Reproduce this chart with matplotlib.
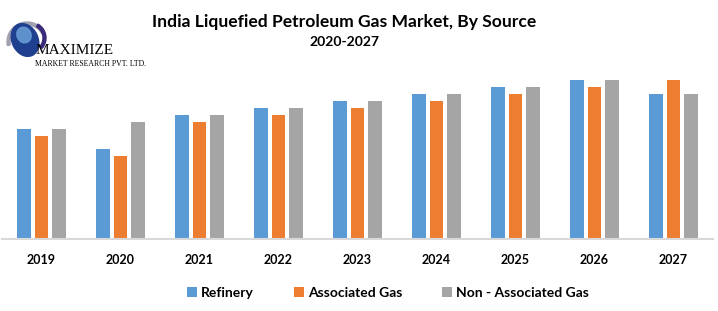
import numpy as np
import matplotlib.pyplot as plt
from matplotlib.patches import Wedge, Ellipse

years = ['2019', '2020', '2021', '2022', '2023', '2024', '2025', '2026', '2027']
refinery = [16, 13, 18, 19, 20, 21, 22, 23, 21]
associated = [15, 12, 17, 18, 19, 20, 21, 22, 23]
non_associated = [16, 17, 18, 19, 20, 21, 22, 23, 21]
series_names = ['Refinery', 'Associated Gas', 'Non - Associated Gas']
colors = ['#5b9bd5', '#ed7d31', '#a5a5a5']

fig = plt.figure(figsize=(7.18, 3.11), dpi=100)
ax = fig.add_axes([2 / 718, 1 - 239 / 311, 711 / 718, 169 / 311])

x = np.arange(len(years))
w = 0.175
off = 0.222
for i, vals in enumerate([refinery, associated, non_associated]):
    ax.bar(x + (i - 1) * off, vals, width=w, color=colors[i], label=series_names[i])

ax.set_xlim(-0.5, len(years) - 0.5)
ax.set_ylim(0, 24.5)
ax.set_yticks([])
ax.set_xticks(x)
ax.set_xticklabels(years, fontsize=9, fontweight='bold', family=['Lato', 'DejaVu Sans'])
ax.tick_params(axis='x', length=0, pad=11)
for s in ['top', 'right', 'left']:
    ax.spines[s].set_visible(False)
ax.spines['bottom'].set_color('#d9d9d9')
ax.spines['bottom'].set_linewidth(1.5)

leg = fig.legend(loc='center', bbox_to_anchor=(388 / 718, 1 - 293 / 311), ncol=3, frameon=False,
                 handlelength=0.7, handleheight=0.7, handletextpad=0.3, columnspacing=2.9,
                 prop={'family': 'Lato', 'weight': 'bold', 'size': 10})

fig.text(344 / 718, 1 - 22 / 311, 'India Liquefied Petroleum Gas Market, By Source',
         ha='center', va='center', fontsize=12.6, fontweight='bold', family='Lato')
fig.text(344 / 718, 1 - 42 / 311, '2020-2027', ha='center', va='center',
         fontsize=10, fontweight='bold', family='Lato')

# logo
lax = fig.add_axes([0, 1 - 75 / 311, 160 / 718, 75 / 311])
lax.set_xlim(0, 160)
lax.set_ylim(75, 0)
lax.axis('off')
lax.add_patch(Wedge((27, 42), 20, 170, 330, width=3, color='#a0a0b0'))
lax.add_patch(Wedge((30, 38), 16, -60, 40, width=3, color='#3b2a7a'))
lax.add_patch(Ellipse((25, 40), 26, 34, angle=-25, color='#1f3f8f'))
lax.add_patch(Ellipse((24, 35), 14, 16, angle=-25, color='#6a9fd8', alpha=0.85))
lax.text(36, 51, 'MAXIMIZE', fontsize=11, family='Liberation Serif', va='center', ha='left')
lax.text(35, 64, 'MARKET RESEARCH PVT. LTD.', fontsize=5.6, family='Liberation Serif',
         va='center', ha='left')

fig.savefig('out.png', dpi=100)
